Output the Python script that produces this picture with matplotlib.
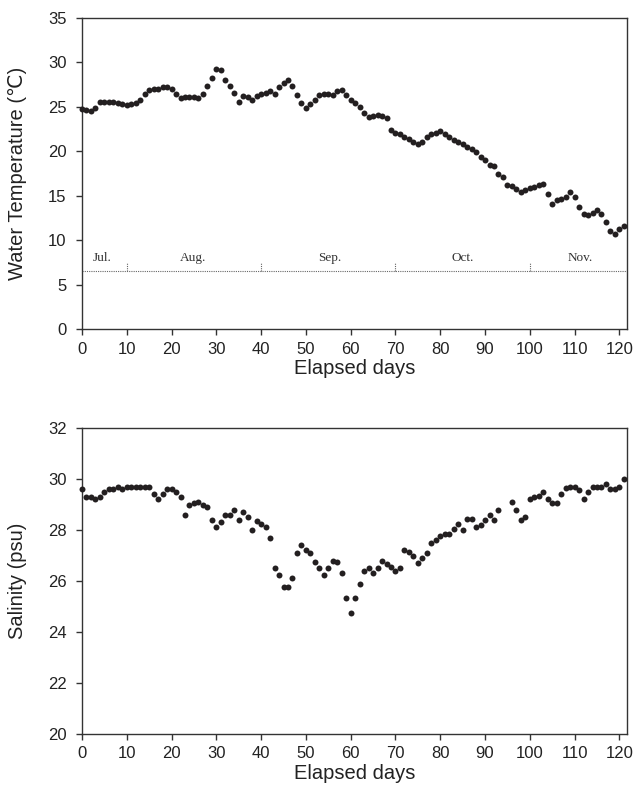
import numpy as np
import matplotlib
matplotlib.use("Agg")
import matplotlib.pyplot as plt

plt.rcParams['font.family'] = ['Liberation Sans', 'DejaVu Sans']

# ---- data ----
days = np.arange(0, 122)

temperature = [
    24.8, 24.7, 24.5, 24.9, 25.6, 25.6, 25.6, 25.5, 25.4, 25.3,
    25.2, 25.3, 25.4, 25.8, 26.5, 26.9, 27.0, 27.0, 27.2, 27.2,
    27.0, 26.5, 26.0, 26.1, 26.1, 26.1, 26.0, 26.5, 27.4, 28.2,
    29.3, 29.2, 28.0, 27.3, 26.6, 25.6, 26.2, 26.1, 25.8, 26.2,
    26.4, 26.6, 26.8, 26.5, 27.2, 27.7, 28.0, 27.4, 26.3, 25.4,
    24.9, 25.3, 25.8, 26.3, 26.4, 26.4, 26.3, 26.8, 26.9, 26.3,
    25.8, 25.4, 25.0, 24.3, 23.9, 24.0, 24.1, 24.0, 23.8, 22.4,
    22.1, 21.9, 21.6, 21.4, 21.1, 20.8, 21.0, 21.6, 21.9, 22.1,
    22.3, 21.9, 21.6, 21.3, 21.0, 20.8, 20.5, 20.3, 19.9, 19.4,
    19.0, 18.5, 18.3, 17.5, 17.1, 16.2, 16.1, 15.7, 15.4, 15.6,
    15.9, 16.0, 16.2, 16.3, 15.2, 14.1, 14.5, 14.6, 14.8, 15.4,
    14.8, 13.7, 12.9, 12.8, 13.0, 13.4, 12.9, 12.0, 11.0, 10.7,
    11.2, 11.6,
]

salinity = [
    29.6, 29.3, 29.3, 29.2, 29.3, 29.5, 29.6, 29.6, 29.7, 29.6,
    29.7, 29.7, 29.7, 29.7, 29.7, 29.7, 29.4, 29.2, 29.4, 29.6,
    29.6, 29.5, 29.3, 28.6, 29.0, 29.05, 29.1, 29.0, 28.9, 28.4,
    28.1, 28.3, 28.6, 28.6, 28.8, 28.4, 28.7, 28.5, 28.0, 28.35,
    28.25, 28.1, 27.7, 26.5, 26.25, 25.75, 25.75, 26.1, 27.1, 27.4,
    27.2, 27.1, 26.75, 26.5, 26.25, 26.5, 26.8, 26.75, 26.3, 25.35,
    24.75, 25.35, 25.9, 26.4, 26.5, 26.3, 26.5, 26.8, 26.65, 26.55,
    26.4, 26.5, 27.2, 27.15, 27.0, 26.7, 26.9, 27.1, 27.5, 27.6,
    27.75, 27.85, 27.85, 28.05, 28.25, 28.0, 28.45, 28.45, 28.1, 28.2,
    28.4, 28.6, 28.4, 28.8, np.nan, np.nan, 29.1, 28.8, 28.4, 28.5,
    29.2, 29.3, 29.35, 29.5, 29.2, 29.05, 29.05, 29.4, 29.65, 29.7,
    29.7, 29.55, 29.2, 29.5, 29.7, 29.7, 29.7, 29.8, 29.6, 29.6,
    29.7, 30.0,
]

month_names = ["Jul.", "Aug.", "Sep.", "Oct.", "Nov."]
month_label_days = [4.5, 24.7, 55.4, 85.1, 111.2]
month_boundaries = [10, 40, 70, 100]

xticks = list(range(0, 121, 10))
temp_ticks = list(range(0, 36, 5))
sal_ticks = list(range(20, 33, 2))

# ---- figure ----
W, H = 644, 789
fig = plt.figure(figsize=(W / 100, H / 100), dpi=100)

left = 82 / W
width = (627 - 82) / W
ax1 = fig.add_axes([left, 1 - 329 / H, width, (329 - 18) / H])
ax2 = fig.add_axes([left, 1 - 734 / H, width, (734 - 428) / H])

dot_color = "#231f20"
tick_fs = 12
label_fs = 14.5

def style(ax):
    for s in ax.spines.values():
        s.set_linewidth(1.0)
        s.set_color("#333333")
    ax.tick_params(direction="out", length=4, width=1.0, labelsize=tick_fs,
                   colors="#333333", labelcolor="#222222")
    ax.tick_params(axis="y", pad=7)
    ax.tick_params(axis="x", pad=5)
    ax.set_xlim(0, 121.7)
    ax.set_xticks(xticks)
    ax.set_xlabel("Elapsed days", fontsize=label_fs, color="#222222", labelpad=2)

# Top: water temperature
ax1.plot(days, temperature, "o", color=dot_color, markersize=4.3,
         markeredgewidth=0, clip_on=False, zorder=3)
ax1.set_ylim(0, 35)
ax1.set_yticks(temp_ticks)
ax1.set_ylabel("Water Temperature (℃)", fontsize=label_fs, color="#222222")
style(ax1)

line_y = 6.5
ax1.axhline(line_y, color="#666666", linestyle=(0, (1, 1)), linewidth=0.8, zorder=1)
for b in month_boundaries:
    ax1.plot([b, b], [line_y, line_y + 0.9], color="#666666",
             linestyle=(0, (1, 1)), linewidth=0.8, zorder=1)
for name, d in zip(month_names, month_label_days):
    ax1.text(d, 7.95, name, ha="center", va="center", fontsize=9.5,
             family=["Liberation Serif", "DejaVu Serif"], color="#333333")

# Bottom: salinity
ax2.plot(days, salinity, "o", color=dot_color, markersize=4.3,
         markeredgewidth=0, clip_on=False, zorder=3)
ax2.set_ylim(20, 32)
ax2.set_yticks(sal_ticks)
ax2.set_ylabel("Salinity (psu)", fontsize=label_fs, color="#222222")
style(ax2)

for ax in (ax1, ax2):
    ax.yaxis.set_label_coords(-0.1, 0.5)

fig.savefig("out.png", dpi=100)
